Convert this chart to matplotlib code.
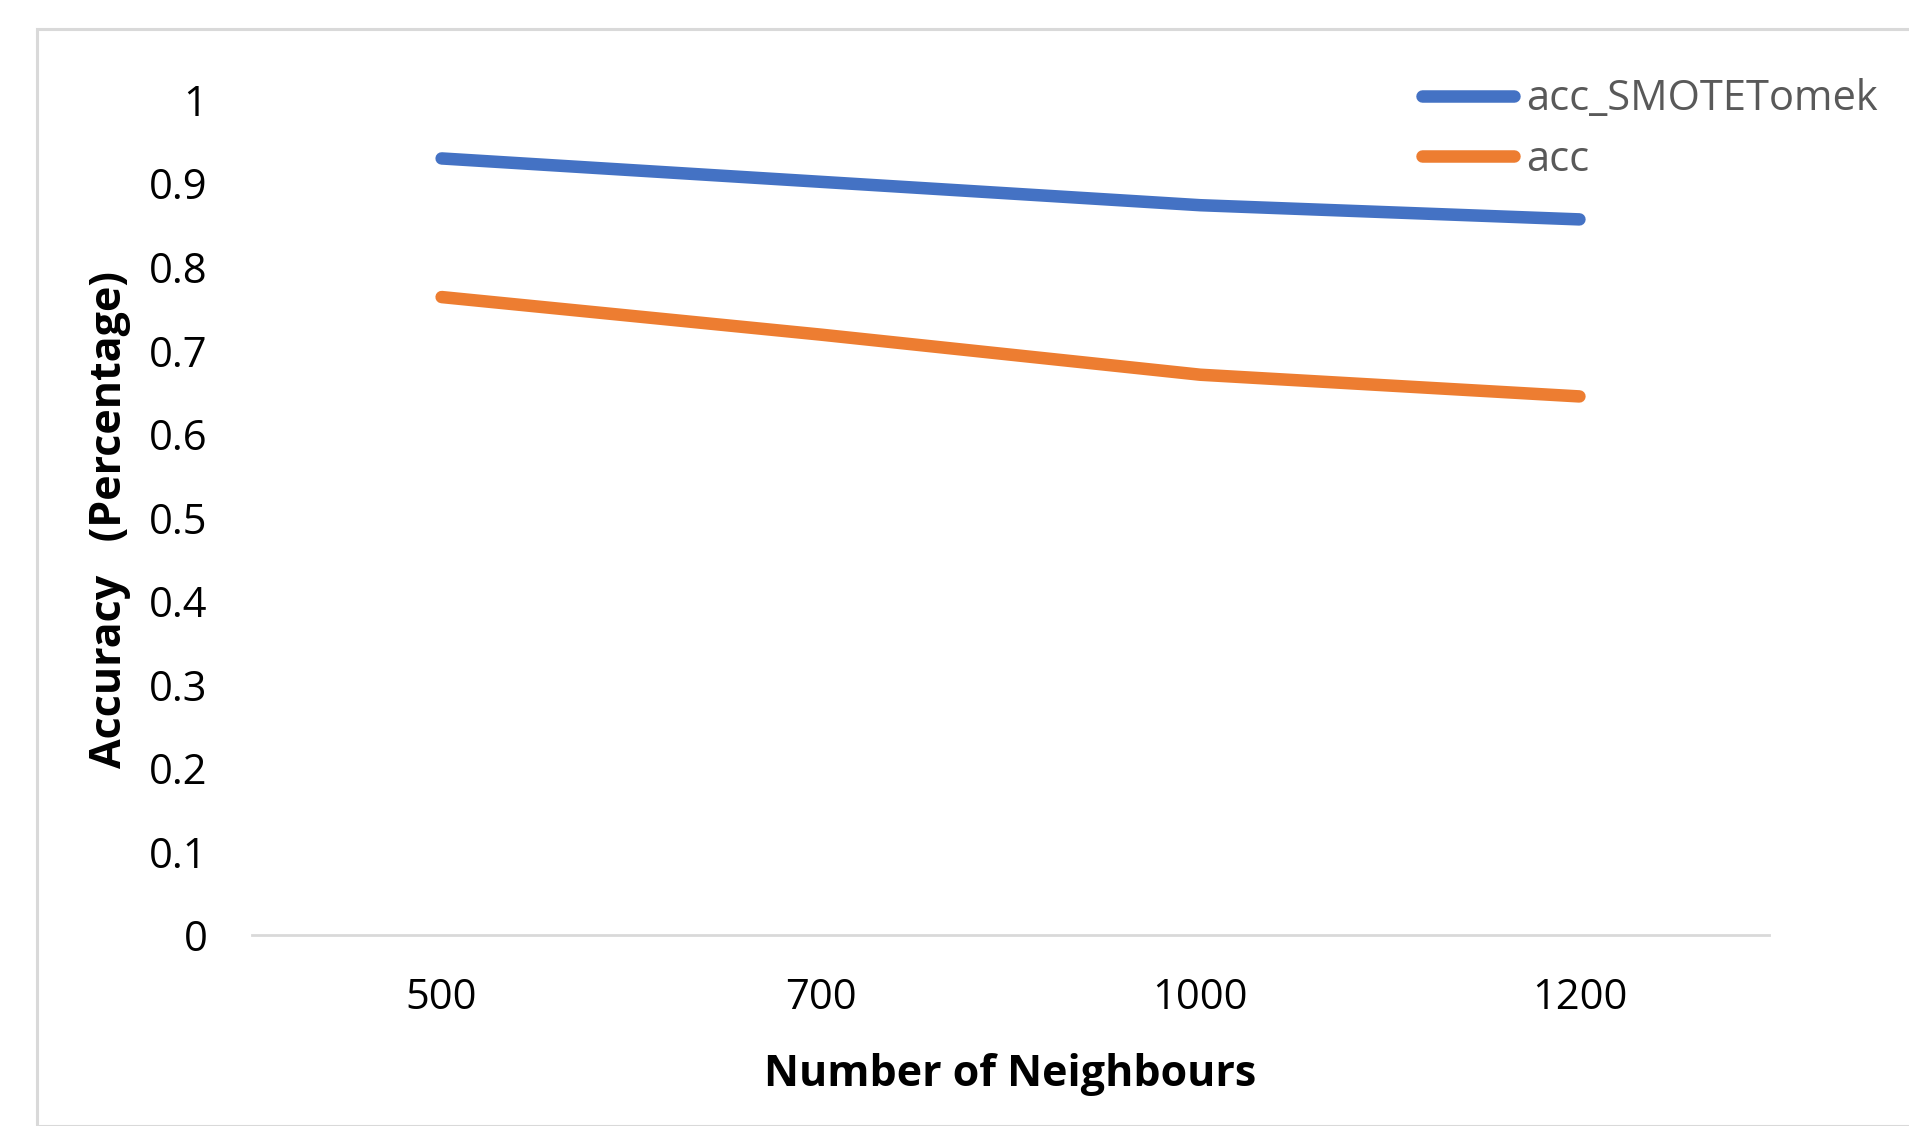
import matplotlib.pyplot as plt
from matplotlib.patches import Rectangle

plt.rcParams['font.family'] = ['Open Sans', 'DejaVu Sans']

neighbours = ['500', '700', '1000', '1200']
acc_smotetomek = [0.930, 0.902, 0.874, 0.857]
acc = [0.764, 0.719, 0.671, 0.645]

blue = '#4472C4'
orange = '#ED7D31'

fig = plt.figure(figsize=(19.09, 11.26), dpi=100)
ax = fig.add_axes([0.132, 0.1696, 0.7947, 0.7416])

x = range(len(neighbours))
ax.plot(x, acc_smotetomek, color=blue, lw=9, solid_capstyle='round',
        solid_joinstyle='round', label='acc_SMOTETomek')
ax.plot(x, acc, color=orange, lw=9, solid_capstyle='round',
        solid_joinstyle='round', label='acc')

ax.set_xlim(-0.5, len(neighbours) - 0.5)
ax.set_ylim(0, 1)
ax.set_yticks([i / 10 for i in range(11)])
ax.set_yticklabels(['0'] + ['0.%d' % i for i in range(1, 10)] + ['1'])
ax.set_xticks(list(x))
ax.set_xticklabels(neighbours)

for s in ['top', 'right', 'left']:
    ax.spines[s].set_visible(False)
ax.spines['bottom'].set_color('#D9D9D9')
ax.spines['bottom'].set_linewidth(2)
ax.tick_params(axis='both', length=0, labelsize=30, colors='black')
ax.tick_params(axis='y', pad=32)
ax.tick_params(axis='x', pad=30)

ax.set_xlabel('Number of Neighbours', fontsize=31, fontweight='bold', va='center')
ax.xaxis.set_label_coords(0.5, -0.1665)
ax.set_ylabel('Accuracy   (Percentage)', fontsize=31, fontweight='bold', va='center')
ax.yaxis.set_label_coords(-0.094, 0.498)

leg = fig.legend(loc='upper left', bbox_to_anchor=(0.745, 0.9305), frameon=False,
                 fontsize=30, handlelength=2.2, handletextpad=0.3, labelspacing=0.44,
                 borderaxespad=0, borderpad=0)
for t in leg.get_texts():
    t.set_color('#595959')

# chart border
fig.patches.append(Rectangle((37 / 1909, 0), 1.0, 1 - 29 / 1126, transform=fig.transFigure,
                             fill=False, edgecolor='#D9D9D9', lw=2.2))

fig.savefig('out.png', dpi=100, facecolor='white')
